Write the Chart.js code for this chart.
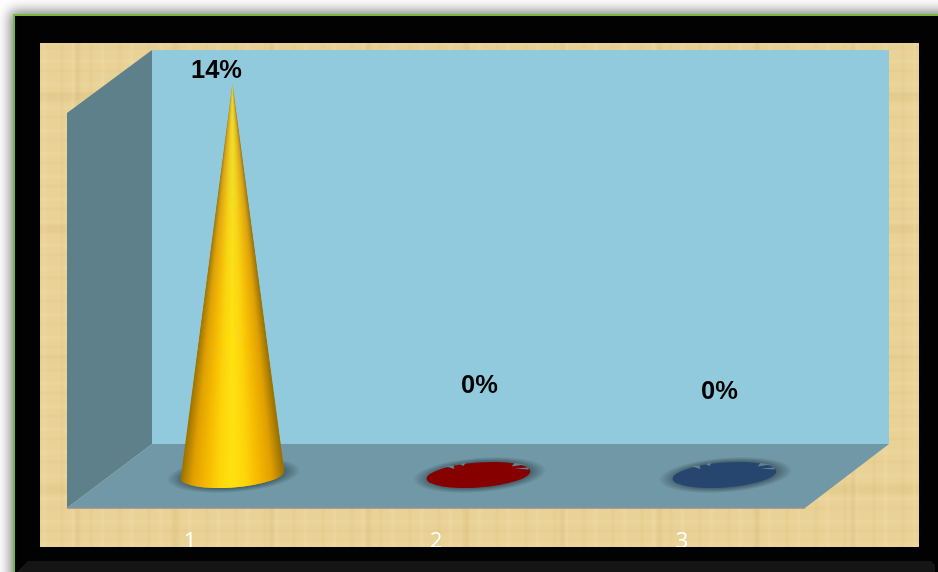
<!DOCTYPE html>
<html>
<head>
<meta charset="utf-8">
<style>
  html, body { margin: 0; height: 100%; overflow: hidden; background: #fff; }
  #frame { position: absolute; left: 13px; top: 14px; width: 1000px; height: 700px; background: #020202;
    border: 2px solid #78b83c; box-sizing: border-box; box-shadow: 0 0 12px 3px rgba(0,0,0,.5); }
  #paper { position: absolute; left: 40px; top: 43px; width: 879px; height: 504px; overflow: hidden; background: #e9d296; }
  #tex { position: absolute; inset: -8px; filter: blur(1.1px);
    background-color: #e9d296;
    background-image:
      repeating-linear-gradient(90deg, rgba(190,150,70,.10) 0 2px, transparent 2px 11px, rgba(255,240,200,.14) 11px 14px, transparent 14px 29px),
      repeating-linear-gradient(90deg, transparent 0 43px, rgba(170,130,60,.09) 43px 48px, transparent 48px 97px),
      repeating-linear-gradient(0deg, rgba(190,150,70,.08) 0 2px, transparent 2px 9px, rgba(255,240,200,.12) 9px 12px, transparent 12px 23px),
      repeating-linear-gradient(0deg, transparent 0 61px, rgba(170,130,60,.07) 61px 69px, transparent 69px 131px); }
  #chart { position: absolute; left: 0; top: 0; }
  #edgeBottom { position: absolute; left: 15px; top: 547px; width: 923px; height: 25px; background: #020202; }
  #strip { position: absolute; left: 17px; top: 561px; width: 918px; height: 11px; background: #151515;
    clip-path: polygon(0 100%, 11px 0, 914px 0, 100% 4px, 100% 100%); }
</style>
<script src="https://cdn.jsdelivr.net/npm/chart.js@4/dist/chart.umd.min.js"></script>
</head>
<body>
<div id="frame"></div>
<div id="paper"><div id="tex"></div></div>
<canvas id="chart" width="938" height="572"></canvas>
<div id="edgeBottom"></div>
<div id="strip"></div>
<script>
const categories = ['1', '2', '3']
const values = [0.14, 0, 0]
const valueLabels = ['14%', '0%', '0%']
const coneShades = [[150, 112, 0], [225, 160, 0], [245, 185, 0], [253, 212, 10], [255, 226, 16], [253, 212, 10], [245, 185, 0], [225, 160, 0], [150, 112, 0]]
const flatColors = ['#860000', '#860000', '#27466f']

const depthX = 84, depthY = 64
const labelShift = [[-16, -404], [1, -89], [-5, -83]]
const creases = [
  [[-34, -9], [-24, -6], [-25, -9.5]],
  [[-19, -11], [-15, -9], [-13, -12]],
  [[33, -8.5], [46, -10.5], [36, -12]],
  [[36, -6.5], [50, -7.5], [50, -5.5]],
]

function shadeAt(t) {
  const p = t * (coneShades.length - 1)
  const k = Math.min(Math.floor(p), coneShades.length - 2)
  const c = coneShades[k].map((v, n) => Math.round(v + (coneShades[k + 1][n] - v) * (p - k)))
  return `rgb(${c[0]},${c[1]},${c[2]})`
}

function ellipseShadow(ctx, x, y, rx, ry, rot) {
  ctx.save()
  ctx.translate(x, y)
  ctx.rotate(rot)
  ctx.scale(rx, ry)
  const g = ctx.createRadialGradient(0, 0, 0.55, 0, 0, 1)
  g.addColorStop(0, 'rgba(45,65,75,.85)')
  g.addColorStop(0.5, 'rgba(45,65,75,.55)')
  g.addColorStop(1, 'rgba(45,65,75,0)')
  ctx.fillStyle = g
  ctx.beginPath()
  ctx.arc(0, 0, 1, 0, Math.PI * 2)
  ctx.fill()
  ctx.restore()
}

function drawCone(ctx, cx, baseY, apexY, rx, ry, rot) {
  ctx.save()
  ctx.beginPath()
  ctx.moveTo(cx, apexY)
  ctx.lineTo(cx - rx * Math.cos(rot), baseY - rx * Math.sin(rot))
  ctx.ellipse(cx, baseY, rx, ry, rot, Math.PI, 0, true)
  ctx.closePath()
  ctx.clip()
  // shading follows the rays from the tip, so the band narrows upward
  const slices = 70, stretch = 1.1
  const bottom = apexY + (baseY - apexY) * stretch
  for (let k = 0; k < slices; k++) {
    const x0 = cx + (k / slices - 0.5) * 2 * rx * stretch
    const x1 = cx + ((k + 1.6) / slices - 0.5) * 2 * rx * stretch
    ctx.fillStyle = shadeAt((k + 0.5) / slices)
    ctx.beginPath()
    ctx.moveTo(cx, apexY)
    ctx.lineTo(x0, bottom)
    ctx.lineTo(x1, bottom)
    ctx.closePath()
    ctx.fill()
  }
  ctx.restore()
}

const roomPlugin = {
  id: 'room',
  beforeDatasetsDraw(chart) {
    const { ctx, chartArea: a } = chart
    const wallTop = a.top - 3
    const backL = a.left + depthX + 1, backR = a.right + depthX, backB = a.bottom - depthY, backT = wallTop - depthY + 1
    ctx.save()
    ctx.fillStyle = '#91cadc'
    ctx.fillRect(backL, backT, backR - backL, backB - backT)
    ctx.fillStyle = '#5e808b'
    ctx.beginPath()
    ctx.moveTo(a.left, a.bottom); ctx.lineTo(a.left, wallTop); ctx.lineTo(backL, backT); ctx.lineTo(backL, backB)
    ctx.closePath(); ctx.fill()
    ctx.fillStyle = '#7098a6'
    ctx.beginPath()
    ctx.moveTo(a.left, a.bottom); ctx.lineTo(backL, backB); ctx.lineTo(backR, backB); ctx.lineTo(a.right, a.bottom)
    ctx.closePath(); ctx.fill()
    ctx.strokeStyle = '#8d9296'
    ctx.lineWidth = 1.5
    ctx.beginPath(); ctx.moveTo(a.left, a.bottom); ctx.lineTo(a.right, a.bottom); ctx.stroke()
    ctx.restore()
  },
  afterDatasetsDraw(chart) {
    const { ctx } = chart
    const bars = chart.getDatasetMeta(0).data
    const rx = 52, ry = 12.5, rot = -0.075
    bars.forEach((bar, i) => {
      const cx = bar.x + depthX / 2 + 0.5, baseY = bar.base - depthY / 2 - 1
      const apexY = bar.y - depthY / 2 - 1
      ellipseShadow(ctx, cx + 1, baseY, rx + 15, ry + 5, rot)
      if (values[i] > 0) {
        drawCone(ctx, cx, baseY, apexY, rx, ry, rot)
      } else {
        ctx.save()
        ctx.fillStyle = flatColors[i]
        ctx.beginPath()
        ctx.ellipse(cx, baseY, rx, ry, rot, 0, Math.PI * 2)
        ctx.fill()
        // creases left by the flattened cone
        ctx.fillStyle = '#5d8593'
        creases.forEach(c => {
          ctx.beginPath()
          c.forEach(p => ctx.lineTo(cx + p[0], baseY + p[1]))
          ctx.closePath()
          ctx.fill()
        })
        ctx.restore()
      }
      ctx.save()
      ctx.fillStyle = '#000'
      ctx.font = 'bold 25.5px "Liberation Sans", Arial, sans-serif'
      ctx.textAlign = 'center'
      ctx.textBaseline = 'middle'
      ctx.fillText(valueLabels[i], cx + labelShift[i][0], baseY + labelShift[i][1])
      ctx.restore()
    })
  },
}

new Chart(document.getElementById('chart'), {
  type: 'bar',
  data: {
    labels: categories,
    datasets: [{ data: values, backgroundColor: 'transparent', borderWidth: 0 }],
  },
  options: {
    responsive: false,
    animation: false,
    layout: { padding: { left: 67, right: 133, top: 116, bottom: 0 } },
    plugins: { legend: { display: false }, tooltip: { enabled: false } },
    scales: {
      x: {
        grid: { display: false },
        border: { display: false },
        ticks: { color: '#fff', font: { family: '"Open Sans"', size: 22 }, padding: 13, maxRotation: 0 },
        afterFit(scale) { scale.height = 64 },
      },
      y: { display: false, min: 0, max: 0.14 },
    },
  },
  plugins: [roomPlugin],
})
</script>
</body>
</html>
